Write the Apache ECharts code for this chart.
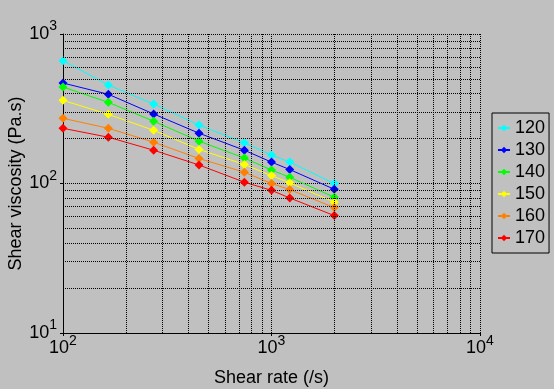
<!DOCTYPE html>
<html><head><meta charset="utf-8">
<script src="https://cdn.jsdelivr.net/npm/echarts@6/dist/echarts.min.js"></script>
<style>html,body{margin:0;padding:0;background:#c0c0c0;}#c{width:554px;height:389px;}</style>
</head><body><div id="c"></div>
<script>
const shearRate = [100, 165, 272, 449, 741, 1000, 1223, 2000];
const seriesNames = ['120', '130', '140', '150', '160', '170'];
const v120 = [663, 456, 340, 246, 187, 155, 139, 100];
const v130 = [470, 395, 292, 217, 167, 139, 124, 91.5];
const v140 = [442, 349, 261, 192, 148, 123, 110, 81];
const v150 = [360, 290, 227, 169, 134, 113, 101, 75];
const v160 = [273, 234, 189, 147, 119, 100, 91, 69];
const v170 = [234, 204, 167, 133, 102, 90, 80, 61];
const seriesValues = [v120, v130, v140, v150, v160, v170];
const seriesColors = ['#00ffff', '#0000ff', '#00ff00', '#ffff00', '#ff8000', '#ff0000'];
const xTickValues = [100, 1000, 10000];
const xTickExponents = ['2', '3', '4'];
const yTickValues = [10, 100, 1000];
const yTickExponents = ['1', '2', '3'];
const xMinorGrid = [200, 300, 400, 500, 600, 700, 800, 900, 2000, 3000, 4000, 5000, 6000, 7000, 8000, 9000];
const yMinorGrid = [20, 30, 40, 50, 60, 70, 80, 90, 200, 300, 400, 500, 600, 700, 800, 900];

const FONT = 'Liberation Sans, Arial, sans-serif';
function labelFmt(values, exps) {
  return function (v) {
    let idx = -1;
    for (let i = 0; i < values.length; i++) { if (Math.abs(values[i] - v) / values[i] < 1e-6) idx = i; }
    if (idx < 0) return '';
    return '{b|10}{s|' + exps[idx] + '}';
  };
}
const rich = {
  b: { fontSize: 18, color: '#000', fontFamily: FONT },
  s: { fontSize: 14, color: '#000', fontFamily: FONT, padding: [0, 0, 15, 0] }
};
const gridLineStyle = { color: '#000', type: 'dotted', width: 1 };

const series = seriesNames.map(function (name, i) {
  return {
    name: name,
    type: 'line',
    data: shearRate.map(function (x, j) { return [x, seriesValues[i][j]]; }),
    symbol: 'diamond',
    symbolSize: 9,
    showSymbol: true,
    lineStyle: { color: seriesColors[i], width: 1 },
    itemStyle: { color: seriesColors[i] },
    z: 3,
    animation: false
  };
});
series.unshift({
  name: 'grid',
  type: 'line',
  data: [],
  silent: true,
  z: 1,
  markLine: {
    silent: true,
    animation: false,
    symbol: ['none', 'none'],
    label: { show: false },
    lineStyle: gridLineStyle,
    emphasis: { disabled: true },
    data: xMinorGrid.map(function (v) { return { xAxis: v }; })
      .concat(yMinorGrid.map(function (v) { return { yAxis: v }; }))
  }
});

const chart = echarts.init(document.getElementById('c'), null, { renderer: 'canvas' });
chart.setOption({
  backgroundColor: '#c0c0c0',
  animation: false,
  textStyle: { fontFamily: FONT },
  grid: { left: 63, right: 74, top: 34, bottom: 56, containLabel: false, outerBoundsMode: 'none' },
  legend: {
    data: seriesNames,
    orient: 'vertical',
    left: 492,
    top: 113,
    padding: [6, 4, 6, 5],
    borderColor: '#000',
    borderWidth: 1,
    itemWidth: 12,
    itemHeight: 8,
    itemGap: 4,
    textStyle: { fontSize: 18, lineHeight: 18, color: '#000', fontFamily: FONT }
  },
  xAxis: {
    type: 'log',
    logBase: 10,
    min: 100,
    max: 10000,
    name: 'Shear rate (/s)',
    nameLocation: 'middle',
    nameGap: 36,
    nameMoveOverlap: false,
    nameTextStyle: { fontSize: 18, color: '#000', fontFamily: FONT },
    axisLine: { show: true, onZero: false, lineStyle: { color: '#000', width: 1 } },
    axisTick: { show: true, length: 3, lineStyle: { color: '#000' } },
    axisLabel: { margin: 1, formatter: labelFmt(xTickValues, xTickExponents), rich: rich },
    splitLine: { show: true, lineStyle: gridLineStyle },
    minorTick: { show: false },
    minorSplitLine: { show: false }
  },
  yAxis: {
    type: 'log',
    logBase: 10,
    min: 10,
    max: 1000,
    name: 'Shear viscosity (Pa.s)',
    nameLocation: 'middle',
    nameGap: 38,
    nameMoveOverlap: false,
    nameTextStyle: { fontSize: 18, color: '#000', fontFamily: FONT },
    axisLine: { show: true, onZero: false, lineStyle: { color: '#000', width: 1 } },
    axisTick: { show: true, length: 3, lineStyle: { color: '#000' } },
    axisLabel: { margin: 6, formatter: labelFmt(yTickValues, yTickExponents), rich: rich },
    splitLine: { show: true, lineStyle: gridLineStyle },
    minorTick: { show: false },
    minorSplitLine: { show: false }
  },
  series: series
});
</script>
</body></html>
